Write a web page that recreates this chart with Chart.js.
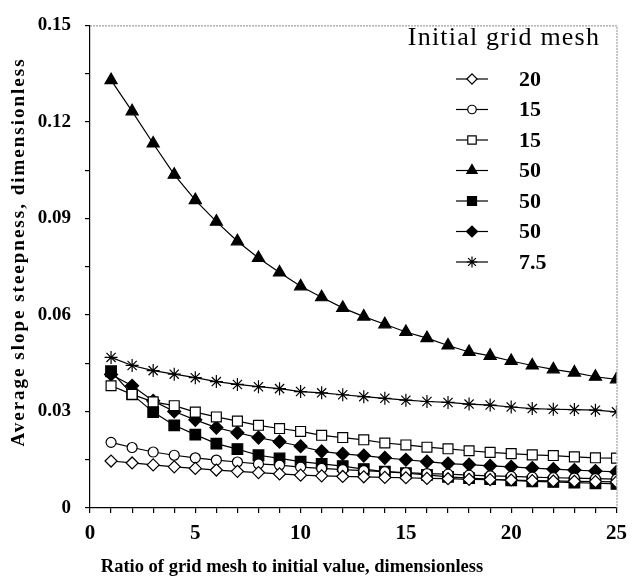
<!DOCTYPE html>
<html>
<head>
<meta charset="utf-8">
<script src="https://cdn.jsdelivr.net/npm/chart.js@4.4.1/dist/chart.umd.min.js"></script>
<style>
  html, body { margin: 0; padding: 0; background: #fff; }
  #wrap { width: 635px; height: 578px; }
</style>
</head>
<body>
<div id="wrap"><canvas id="chart" width="635" height="578"></canvas></div>
<script>
const ratios = [1, 2, 3, 4, 5, 6, 7, 8, 9, 10, 11, 12, 13, 14, 15, 16, 17, 18, 19, 20, 21, 22, 23, 24, 25];

const mesh20Open = [0.0146, 0.0140, 0.0134, 0.0128, 0.0123, 0.0118, 0.0114, 0.0110, 0.0106, 0.0102, 0.0100, 0.0098, 0.0097, 0.0095, 0.0094, 0.0092, 0.0091, 0.0089, 0.0088, 0.0087, 0.0085, 0.0084, 0.0083, 0.0082, 0.0081];
const mesh15Circle = [0.0204, 0.0188, 0.0174, 0.0164, 0.0156, 0.0149, 0.0143, 0.0137, 0.0133, 0.0127, 0.0123, 0.0119, 0.0116, 0.0113, 0.0110, 0.0107, 0.0105, 0.0102, 0.0100, 0.0098, 0.0096, 0.0094, 0.0093, 0.0091, 0.0090];
const mesh15Square = [0.0380, 0.0353, 0.0330, 0.0318, 0.0298, 0.0283, 0.0270, 0.0257, 0.0247, 0.0238, 0.0226, 0.0219, 0.0212, 0.0202, 0.0196, 0.0189, 0.0184, 0.0178, 0.0173, 0.0169, 0.0165, 0.0163, 0.0159, 0.0156, 0.0155];
const mesh50Triangle = [0.1330, 0.1233, 0.1133, 0.1036, 0.0957, 0.0890, 0.0829, 0.0777, 0.0732, 0.0689, 0.0655, 0.0622, 0.0595, 0.0571, 0.0547, 0.0528, 0.0505, 0.0485, 0.0473, 0.0457, 0.0443, 0.0431, 0.0421, 0.0408, 0.0400];
const mesh50Square = [0.0425, 0.0353, 0.0298, 0.0257, 0.0228, 0.0200, 0.0183, 0.0164, 0.0154, 0.0144, 0.0137, 0.0130, 0.0121, 0.0113, 0.0108, 0.0103, 0.0097, 0.0093, 0.0090, 0.0086, 0.0083, 0.0081, 0.0079, 0.0077, 0.0075];
const mesh50Diamond = [0.0415, 0.0380, 0.0333, 0.0300, 0.0274, 0.0250, 0.0234, 0.0219, 0.0206, 0.0192, 0.0176, 0.0168, 0.0163, 0.0156, 0.0150, 0.0144, 0.0138, 0.0135, 0.0131, 0.0128, 0.0124, 0.0121, 0.0118, 0.0115, 0.0112];
const mesh75Star = [0.0468, 0.0443, 0.0427, 0.0416, 0.0405, 0.0393, 0.0384, 0.0377, 0.0371, 0.0362, 0.0358, 0.0352, 0.0346, 0.0341, 0.0335, 0.0331, 0.0328, 0.0323, 0.0320, 0.0314, 0.0309, 0.0307, 0.0306, 0.0304, 0.0299];

const seriesLabels = ["20", "15", "15", "50", "50", "50", "7.5"];
const legendTitle = "Initial grid mesh";
const xTitle = "Ratio of grid mesh to initial value, dimensionless";
const yTitle = "Average slope steepness, dimensionless";

const serif = "'Liberation Serif', 'Times New Roman', serif";

function toPoints(values) {
  return values.map((v, i) => ({ x: ratios[i], y: v }));
}

function series(label, values, style, radius, filled) {
  return {
    label,
    data: toPoints(values),
    borderColor: "#000",
    borderWidth: 1.2,
    pointStyle: style,
    pointRadius: radius,
    pointHoverRadius: radius,
    pointBorderColor: "#000",
    pointBorderWidth: 1.2,
    pointBackgroundColor: filled ? "#000" : "#fff",
    tension: 0,
    fill: false
  };
}

const datasets = [
  series(seriesLabels[0], mesh20Open, "rectRot", 6, false),
  series(seriesLabels[1], mesh15Circle, "circle", 5, false),
  series(seriesLabels[2], mesh15Square, "rect", 7, false),
  series(seriesLabels[3], mesh50Triangle, "triangle", 7, true),
  series(seriesLabels[4], mesh50Square, "rect", 7.5, true),
  series(seriesLabels[5], mesh50Diamond, "rectRot", 6.5, true),
  series(seriesLabels[6], mesh75Star, "star", 6.5, false)
];

// dotted frame on top and right
const framePlugin = {
  id: "frame",
  afterDraw(chart) {
    const { ctx, chartArea: a } = chart;
    ctx.save();
    ctx.strokeStyle = "#888";
    ctx.lineWidth = 1;
    ctx.setLineDash([2, 1]);
    ctx.beginPath();
    ctx.moveTo(a.left, a.top + 0.5);
    ctx.lineTo(a.right + 0.5, a.top + 0.5);
    ctx.lineTo(a.right + 0.5, a.bottom);
    ctx.stroke();
    ctx.restore();
  }
};

// axis titles (drawn here so the letter spacing can follow the original)
const titlesPlugin = {
  id: "axisTitles",
  afterDraw(chart) {
    const { ctx, chartArea: a } = chart;
    ctx.save();
    ctx.fillStyle = "#000";
    ctx.textAlign = "center";
    ctx.textBaseline = "alphabetic";

    ctx.font = `bold 18.5px ${serif}`;
    ctx.fillText(xTitle, 292, 572);

    ctx.translate(24, 252);
    ctx.rotate(-Math.PI / 2);
    ctx.font = `bold 19px ${serif}`;
    ctx.letterSpacing = "2px";
    ctx.fillText(yTitle, 0, 0);
    ctx.restore();
  }
};

const legendPlugin = {
  id: "insideLegend",
  afterDraw(chart) {
    const { ctx } = chart;
    ctx.save();
    ctx.fillStyle = "#000";
    ctx.textAlign = "center";
    ctx.textBaseline = "alphabetic";
    ctx.font = `26px ${serif}`;
    ctx.letterSpacing = "1.2px";
    ctx.fillText(legendTitle, 504, 45);
    ctx.letterSpacing = "0px";

    const markX = 472;
    const labelX = 519;
    const startY = 79;
    const gap = 30.5;
    ctx.textBaseline = "middle";
    chart.data.datasets.forEach((ds, i) => {
      const y = startY + i * gap;
      ctx.strokeStyle = "#000";
      ctx.lineWidth = 1.2;
      ctx.beginPath();
      ctx.moveTo(markX - 16, y);
      ctx.lineTo(markX + 16, y);
      ctx.stroke();
      ctx.fillStyle = ds.pointBackgroundColor;
      ctx.strokeStyle = ds.pointBorderColor;
      Chart.helpers.drawPoint(ctx, {
        pointStyle: ds.pointStyle,
        radius: ds.pointRadius * 0.85,
        rotation: 0,
        borderWidth: 1.2
      }, markX, y);
      ctx.fillStyle = "#000";
      ctx.font = `bold 22px ${serif}`;
      ctx.textAlign = "left";
      ctx.fillText(ds.label, labelX, y + 1);
    });
    ctx.restore();
  }
};

new Chart(document.getElementById("chart"), {
  type: "line",
  data: { datasets },
  options: {
    responsive: false,
    animation: false,
    layout: { padding: { left: 0, top: 14, right: 9, bottom: 0 } },
    plugins: { legend: { display: false }, tooltip: { enabled: false } },
    scales: {
      x: {
        type: "linear",
        min: 0,
        max: 25,
        afterFit: scale => { scale.height = 70; },
        border: { display: true, color: "#000", width: 1.2 },
        grid: { drawOnChartArea: false, drawTicks: true, tickLength: 5, color: "#000", lineWidth: 1.2 },
        ticks: {
          stepSize: 1,
          autoSkip: false,
          maxRotation: 0,
          padding: 8,
          color: "#000",
          font: { family: serif, size: 21, weight: "bold" },
          callback: v => (v % 5 === 0 ? String(v) : "")
        },
        title: { display: false }
      },
      y: {
        type: "linear",
        min: 0,
        max: 0.15,
        afterFit: scale => { scale.width = 90; },
        border: { display: true, color: "#000", width: 1.2 },
        grid: { drawOnChartArea: false, drawTicks: true, tickLength: 5, color: "#000", lineWidth: 1.2 },
        ticks: {
          stepSize: 0.015,
          autoSkip: false,
          padding: 14,
          color: "#000",
          font: { family: serif, size: 19, weight: "bold" },
          callback: v => {
            const k = Math.round(v / 0.015);
            if (k % 2 !== 0) return "";
            return k === 0 ? "0" : (k * 0.015).toFixed(2);
          }
        },
        title: { display: false }
      }
    }
  },
  plugins: [framePlugin, titlesPlugin, legendPlugin]
});
</script>
</body>
</html>
